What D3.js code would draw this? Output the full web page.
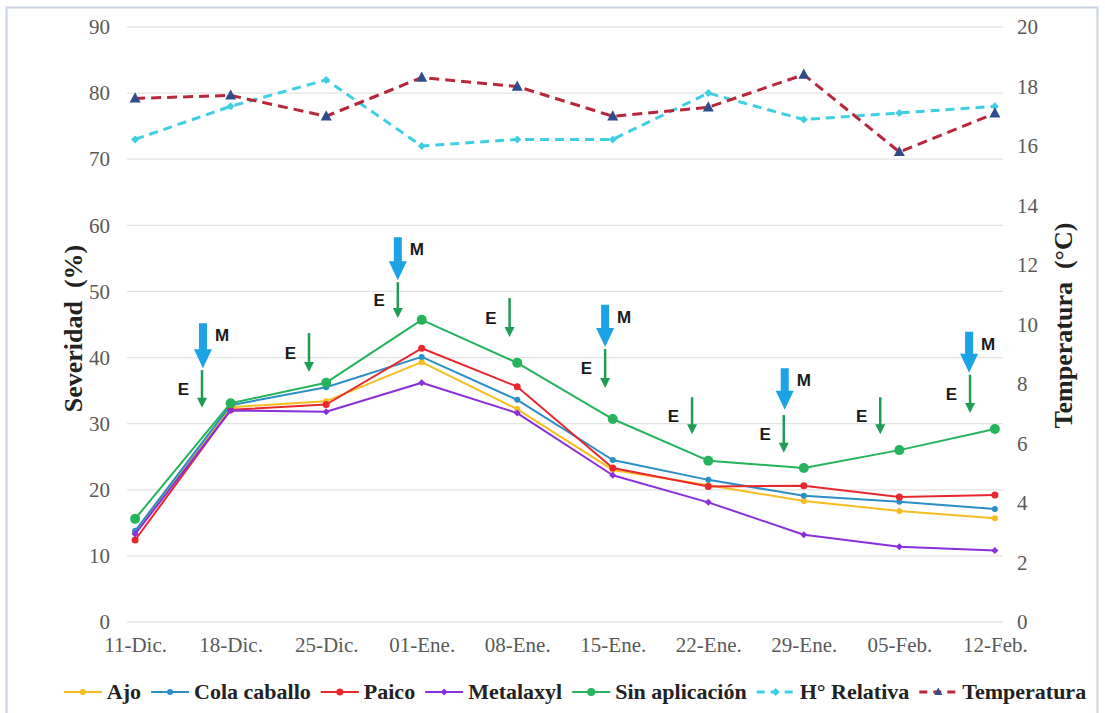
<!DOCTYPE html>
<html>
<head>
<meta charset="utf-8">
<script src="https://cdn.jsdelivr.net/npm/d3@7/dist/d3.min.js"></script>
<style>
  html, body { margin: 0; padding: 0; background: #ffffff; }
  svg { display: block; }
</style>
</head>
<body>
<svg id="chart" width="1105" height="713"></svg>
<script>
// Sampling dates
const categories = ["11-Dic.", "18-Dic.", "25-Dic.", "01-Ene.", "08-Ene.",
                    "15-Ene.", "22-Ene.", "29-Ene.", "05-Feb.", "12-Feb."];

// Severity (%) per treatment
const ajo           = [13.5, 32.5, 33.4, 39.3, 32.2, 23.0, 20.7, 18.3, 16.8, 15.7];
const colaCaballo   = [13.8, 32.8, 35.5, 40.1, 33.6, 24.5, 21.5, 19.1, 18.2, 17.1];
const paico         = [12.4, 32.1, 32.9, 41.4, 35.6, 23.3, 20.5, 20.6, 18.9, 19.2];
const metalaxyl     = [13.3, 32.0, 31.8, 36.2, 31.6, 22.2, 18.1, 13.2, 11.4, 10.8];
const sinAplicacion = [15.6, 33.1, 36.2, 45.7, 39.2, 30.7, 24.4, 23.3, 26.0, 29.2];

// Climate: relative humidity (%) on the left axis, temperature (°C) on the right
const humedadRelativa = [73, 78, 82, 72, 73, 73, 80, 76, 77, 78];
const temperatura     = [17.6, 17.7, 17.0, 18.3, 18.0, 17.0, 17.3, 18.4, 15.8, 17.1];

// Axis ticks
const leftTicks  = [0, 10, 20, 30, 40, 50, 60, 70, 80, 90];
const rightTicks = [0, 2, 4, 6, 8, 10, 12, 14, 16, 18, 20];

// Application marks: position along the date index, top and tip on the severity axis
const metalaxylApps = [
  { at: 0.71, from: 45.2, to: 38.4 },
  { at: 2.75, from: 58.2, to: 51.7 },
  { at: 4.92, from: 48.0, to: 41.6 },
  { at: 6.80, from: 38.4, to: 32.1 },
  { at: 8.73, from: 43.9, to: 37.7 }
];
const extractApps = [
  { at: 0.70, from: 38.1, to: 32.4 },
  { at: 1.82, from: 43.7, to: 37.8 },
  { at: 2.75, from: 51.4, to: 46.0 },
  { at: 3.92, from: 49.0, to: 43.1 },
  { at: 4.92, from: 41.3, to: 35.4 },
  { at: 5.83, from: 34.0, to: 28.4 },
  { at: 6.79, from: 31.3, to: 25.6 },
  { at: 7.80, from: 34.0, to: 28.4 },
  { at: 8.74, from: 37.4, to: 31.6 }
];

const series = [
  { name: "Ajo",            values: ajo,           color: "#f5bd1f", marker: "circle",  r: 3,   axis: "left", dash: null },
  { name: "Cola caballo",   values: colaCaballo,   color: "#2b8ec4", marker: "circle",  r: 3,   axis: "left", dash: null },
  { name: "Paico",          values: paico,         color: "#e8282f", marker: "circle",  r: 3.5, axis: "left", dash: null },
  { name: "Metalaxyl",      values: metalaxyl,     color: "#8a2fdc", marker: "diamond", r: 3.5, axis: "left", dash: null },
  { name: "Sin aplicación", values: sinAplicacion, color: "#25b35c", marker: "circle",  r: 5,   axis: "left", dash: null },
  { name: "H° Relativa",    values: humedadRelativa, color: "#3fcfe2", marker: "diamond", r: 4, axis: "left", dash: "9,6", markerColor: "#3fcfe2" },
  { name: "Temperatura",    values: temperatura,   color: "#b8283d", marker: "triangle", r: 5.5, axis: "right", dash: "10,6", markerColor: "#2f4d8c" }
];

const SERIF = '"Liberation Serif", "Times New Roman", serif';
const SANS = '"Liberation Sans", Arial, sans-serif';

const svg = d3.select("#chart");
const plot = { left: 127, right: 1003, top: 27, bottom: 622 };

// Outer frame
svg.append("rect")
  .attr("x", 6.5).attr("y", 7.5).attr("width", 1091).attr("height", 712)
  .attr("fill", "#ffffff").attr("stroke", "#c9d2e4").attr("stroke-width", 2);

const x = d3.scalePoint().domain(categories).range([plot.left, plot.right]).padding(0.085);
const xIdx = d3.scaleLinear().domain([0, categories.length - 1])
  .range([x(categories[0]), x(categories[categories.length - 1])]);
const yL = d3.scaleLinear().domain([0, 90]).range([plot.bottom, plot.top]);
const yR = d3.scaleLinear().domain([0, 20]).range([plot.bottom, plot.top]);

// Gridlines (left axis)
svg.append("g").selectAll("line").data(leftTicks).join("line")
  .attr("x1", plot.left).attr("x2", plot.right)
  .attr("y1", d => yL(d)).attr("y2", d => yL(d))
  .attr("stroke", "#e3e3e3").attr("stroke-width", 1.3);

function styleAxis(g) {
  g.attr("font-family", null).attr("font-size", null);
  g.select(".domain").remove();
  g.selectAll("text")
    .attr("font-family", SERIF).attr("font-size", 21)
    .attr("fill", "#595959");
}

// Left axis labels
svg.append("g").attr("transform", `translate(${plot.left - 17},0)`)
  .call(d3.axisLeft(yL).tickValues(leftTicks).tickSize(0).tickPadding(0))
  .call(styleAxis);

// Right axis labels
svg.append("g").attr("transform", `translate(${plot.right + 14},0)`)
  .call(d3.axisRight(yR).tickValues(rightTicks).tickSize(0).tickPadding(0))
  .call(styleAxis);

// Bottom axis labels
svg.append("g").attr("transform", `translate(0,${plot.bottom + 14})`)
  .call(d3.axisBottom(x).tickSize(0).tickPadding(0))
  .call(styleAxis)
  .selectAll("text").attr("dy", "0.75em");

// Axis titles
function axisTitle(tx, ty, label) {
  svg.append("text")
    .attr("transform", `translate(${tx},${ty}) rotate(-90)`)
    .attr("text-anchor", "middle")
    .attr("font-family", SERIF).attr("font-size", 26).attr("font-weight", "bold")
    .attr("fill", "#222").style("white-space", "pre")
    .text(label);
}
axisTitle(82, (plot.top + plot.bottom) / 2 + 4, "Severidad  (%)");
axisTitle(1072, (plot.top + plot.bottom) / 2 + 1, "Temperatura  (°C)");

// Marker shapes
function markerPath(type, r) {
  if (type === "circle") return d3.symbol(d3.symbolCircle, Math.PI * r * r)();
  if (type === "diamond") return `M0,${-r}L${r},0L0,${r}L${-r},0Z`;
  if (type === "triangle") return `M0,${-r * 1.1}L${r},${r * 0.75}L${-r},${r * 0.75}Z`;
  return "";
}

// Series lines and markers
series.forEach(s => {
  const yS = s.axis === "right" ? yR : yL;
  const line = d3.line().x((d, i) => x(categories[i])).y(d => yS(d));
  const g = svg.append("g");
  g.append("path").datum(s.values)
    .attr("d", line).attr("fill", "none")
    .attr("stroke", s.color)
    .attr("stroke-width", s.dash ? 3 : 2)
    .attr("stroke-dasharray", s.dash)
    .attr("stroke-linejoin", "round");
  g.selectAll("path.m").data(s.values).join("path").attr("class", "m")
    .attr("transform", (d, i) => `translate(${x(categories[i])},${yS(d)})`)
    .attr("d", markerPath(s.marker, s.r))
    .attr("fill", s.markerColor || s.color);
});

// Metalaxyl applications (thick blue arrows)
const gM = svg.append("g");
metalaxylApps.forEach(a => {
  const cx = xIdx(a.at), y0 = yL(a.from), y1 = yL(a.to);
  const headLen = 19, shaft = 4, head = 9;
  gM.append("path")
    .attr("d", `M${cx - shaft},${y0} L${cx + shaft},${y0} L${cx + shaft},${y1 - headLen} L${cx + head},${y1 - headLen}
                L${cx},${y1} L${cx - head},${y1 - headLen} L${cx - shaft},${y1 - headLen} Z`)
    .attr("fill", "#1ba3e6");
  gM.append("text")
    .attr("font-family", SANS).attr("font-size", 17).attr("font-weight", "bold").attr("fill", "#1a1a1a")
    .attr("x", cx + 12).attr("y", y0 + 18).text("M");
});

// Extract applications (thin green arrows)
const gE = svg.append("g");
extractApps.forEach(a => {
  const cx = xIdx(a.at), y0 = yL(a.from), y1 = yL(a.to);
  gE.append("line")
    .attr("x1", cx).attr("x2", cx).attr("y1", y0).attr("y2", y1 - 8)
    .attr("stroke", "#1f9c55").attr("stroke-width", 2.5);
  gE.append("path")
    .attr("d", `M${cx - 5},${y1 - 10} L${cx + 5},${y1 - 10} L${cx},${y1} Z`)
    .attr("fill", "#1f9c55");
  gE.append("text")
    .attr("font-family", SANS).attr("font-size", 17).attr("font-weight", "bold").attr("fill", "#1a1a1a")
    .attr("x", cx - 13).attr("y", (y0 + y1) / 2 + 6)
    .attr("text-anchor", "end").text("E");
});

// Legend
const legend = svg.append("g");
const legendY = 692;
const items = [];
series.forEach(s => {
  const g = legend.append("g");
  const lineLen = 38;
  g.append("line").attr("x1", 0).attr("x2", lineLen).attr("y1", 0).attr("y2", 0)
    .attr("stroke", s.color).attr("stroke-width", s.dash ? 3 : 2)
    .attr("stroke-dasharray", s.dash ? "8,6" : null);
  g.append("path").attr("transform", `translate(${lineLen / 2},0)`)
    .attr("d", markerPath(s.marker, Math.min(s.r, 4)))
    .attr("fill", s.markerColor || s.color);
  const t = g.append("text")
    .attr("font-family", SERIF).attr("font-size", 22).attr("font-weight", "bold").attr("fill", "#222")
    .attr("x", lineLen + 5).attr("y", 7).text(s.name);
  const w = lineLen + 5 + t.node().getComputedTextLength();
  items.push({ g, w });
});
const gap = 10;
const total = d3.sum(items, d => d.w) + gap * (items.length - 1);
let cursor = 575 - total / 2;
items.forEach(it => {
  it.g.attr("transform", `translate(${cursor},${legendY})`);
  cursor += it.w + gap;
});
</script>
</body>
</html>
